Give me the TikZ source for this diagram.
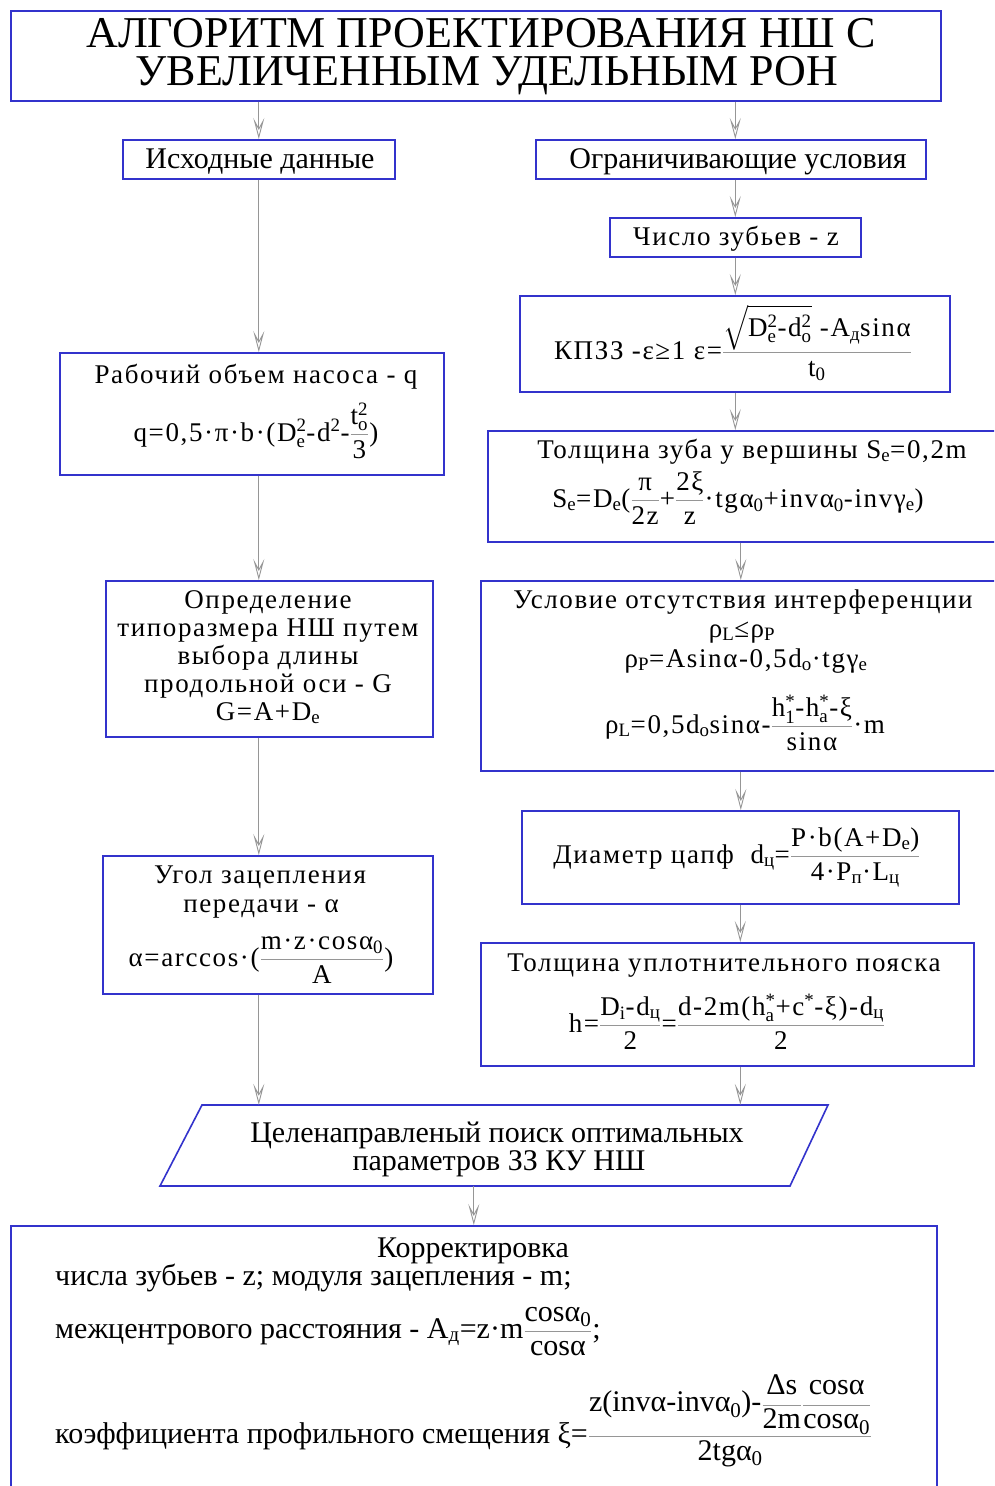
\documentclass[tikz,border=0pt]{standalone}
\usepackage{fontspec}
\usepackage{amsmath}
\setmainfont{Liberation Serif}
\newfontfamily\wf[LetterSpace=6]{Liberation Serif}
\usetikzlibrary{arrows.meta}
\definecolor{bluec}{RGB}{51,51,204}
\definecolor{grayc}{RGB}{150,150,150}
\definecolor{fracgray}{RGB}{150,150,150}
\newcommand\fr[2]{\textcolor{fracgray}{$\genfrac{}{}{0.7pt}{0}{\text{\color{black}#1}}{\text{\color{black}#2}}$}}
\newcommand\sbs[1]{$_\text{#1}$}
\newcommand\sps[1]{$^\text{#1}$}
\newcommand\ssp[2]{$_\text{#1}^\text{#2}$}
\tikzset{
  box/.style={draw=bluec, line width=1.6pt, inner sep=0pt, anchor=north west},
  arr/.style={draw=grayc, line width=0.9pt, -{Stealth[open,length=21pt,width=11pt,inset=10pt]}},
  wtxt/.style={font=\wf\fontsize{27}{28}\selectfont, inner sep=0pt, anchor=base},
  ntxt/.style={font=\fontsize{30}{34}\selectfont, inner sep=0pt, anchor=base},
  ttxt/.style={font=\fontsize{44}{44}\selectfont, inner sep=0pt, anchor=base},
}
\begin{document}
\begin{tikzpicture}[x=1pt,y=-1pt]
\useasboundingbox (0,0) rectangle (994,1486);
\fill[white] (0,0) rectangle (994,1486);
\clip (0,0) rectangle (994,1486);
% boxes
\node[box, minimum width=930, minimum height=90] (title) at (10,10) {};
\node[box, minimum width=272, minimum height=39] (isx) at (122,139) {};
\node[box, minimum width=390, minimum height=39] (ogr) at (535,139) {};
\node[box, minimum width=251, minimum height=39] (chislo) at (609,217) {};
\node[box, minimum width=430, minimum height=96] (kpzz) at (519,295) {};
\node[box, minimum width=510, minimum height=111] (tzub) at (487,430) {};
\node[box, minimum width=384, minimum height=122] (rab) at (59,352) {};
\node[box, minimum width=520, minimum height=190] (usl) at (480,580) {};
\node[box, minimum width=327, minimum height=156] (opr) at (105,580) {};
\node[box, minimum width=330, minimum height=138] (ugol) at (102,855) {};
\node[box, minimum width=437, minimum height=93] (diam) at (521,810) {};
\node[box, minimum width=493, minimum height=123] (tupl) at (480,942) {};
\node[box, minimum width=926, minimum height=290] (korr) at (10,1225) {};
\node[inner sep=0pt, minimum width=600, minimum height=81] (para) at (495,1145.5) {};
\draw[draw=bluec, line width=1.6pt] (202,1105) -- (828,1105) -- (790,1186) -- (160,1186) -- cycle;
% texts
\node[ttxt] (t1) at (481,47) {АЛГОРИТМ ПРОЕКТИРОВАНИЯ НШ С};
\node[ttxt] (t2) at (487,85) {УВЕЛИЧЕННЫМ УДЕЛЬНЫМ РОН};
\node[ntxt] (isxT) at (260,168) {Исходные данные};
\node[ntxt] (ogrT) at (738,168) {Ограничивающие условия};
\node[wtxt] (chisloT) at (736,245) {Число зубьев - z};
\node[wtxt] (kpzzT) at (733,359) {КПЗЗ -ε≥1 ε=\fr{$\sqrt{\text{D\ssp{e}{2}-d\ssp{o}{2}}}$ -A\sbs{д}sinα}{t\sbs{0}}};
\node[wtxt] (tz1) at (752,458) {Толщина зуба у вершины S\sbs{e}=0,2m};
\node[wtxt] (tz2) at (738,507) {S\sbs{e}=D\sbs{e}(\fr{π}{2z}+\fr{2ξ}{z}·tgα\sbs{0}+invα\sbs{0}-invγ\sbs{e})};
\node[wtxt] (rab1) at (256,383) {Рабочий объем насоса - q};
\node[wtxt] (rab2) at (256,441) {q=0,5·π·b·(D\ssp{e}{2}-d\sps{2}-\fr{t\ssp{o}{2}}{3})};
\node[wtxt] (u1) at (743,608) {Условие отсутствия интерференции};
\node[wtxt] (u2) at (742,637) {ρ\sbs{L}≤ρ\sbs{P}};
\node[wtxt] (u3) at (746,667) {ρ\sbs{P}=Asinα-0,5d\sbs{o}·tgγ\sbs{e}};
\node[wtxt] (u4) at (745,733) {ρ\sbs{L}=0,5d\sbs{o}sinα-\fr{h\ssp{1}{*}-h\ssp{a}{*}-ξ}{sinα}·m};
\node[wtxt] (o1) at (268,608) {Определение};
\node[wtxt] (o2) at (268,636) {типоразмера НШ путем};
\node[wtxt] (o3) at (268,664) {выбора длины};
\node[wtxt] (o4) at (268,692) {продольной оси - G};
\node[wtxt] (o5) at (268,720) {G=A+D\sbs{e}};
\node[wtxt] (g1) at (260,883) {Угол зацепления};
\node[wtxt] (g2) at (261,912) {передачи - α};
\node[wtxt] (g3) at (261,966) {α=arccos·(\fr{m·z·cosα\sbs{0}}{A})};
\node[wtxt] (diamT) at (737,863) {Диаметр цапф\ \ d\sbs{ц}=\fr{P·b(A+D\sbs{e})}{4·P\sbs{п}·L\sbs{ц}}};
\node[wtxt] (tu1) at (724,971) {Толщина уплотнительного пояска};
\node[wtxt] (tu2) at (727,1032) {h=\fr{D\sbs{i}-d\sbs{ц}}{2}=\fr{d-2m(h\ssp{a}{*}+c\sps{*}-ξ)-d\sbs{ц}}{2}};
\node[ntxt] (p1) at (497,1142) {Целенаправленый поиск оптимальных};
\node[ntxt] (p2) at (499,1170) {параметров ЗЗ КУ НШ};
\node[ntxt] (k1) at (473,1257) {Корректировка};
\node[ntxt, anchor=base west] (k2) at (55,1285) {числа зубьев - z; модуля зацепления - m;};
\node[ntxt, anchor=base west] (k3) at (55,1338) {межцентрового расстояния - A\sbs{д}=z·m\fr{cosα\sbs{0}}{cosα};};
\node[ntxt, anchor=base west] (k4) at (55,1443) {коэффициента профильного смещения ξ=\fr{z(invα-invα\sbs{0})-\fr{Δs}{2m}\fr{cosα}{cosα\sbs{0}}}{2tgα\sbs{0}}};
% connectors
\draw[arr] (title.south -| isx.north) -- (isx.north);
\draw[arr] (title.south -| chislo.north) -- (ogr.north -| chislo.north);
\draw[arr] (ogr.south -| chislo.north) -- (chislo.north);
\draw[arr] (chislo.south) -- (kpzz.north -| chislo.south);
\draw[arr] (kpzz.south -| chislo.south) -- (tzub.north -| chislo.south);
\draw[arr] (tzub.south -| usl.north) -- (usl.north);
\draw[arr] (usl.south) -- (diam.north -| usl.south);
\draw[arr] (diam.south) -- (tupl.north -| diam.south);
\draw[arr] (tupl.south -| diam.south) -- (para.north -| diam.south);
\draw[arr] (isx.south) -- (rab.north -| isx.south);
\draw[arr] (rab.south -| isx.south) -- (opr.north -| isx.south);
\draw[arr] (opr.south -| isx.south) -- (ugol.north -| isx.south);
\draw[arr] (ugol.south -| isx.south) -- (para.north -| isx.south);
\draw[arr] (para.south -| korr.north) -- (korr.north);
\end{tikzpicture}
\end{document}
